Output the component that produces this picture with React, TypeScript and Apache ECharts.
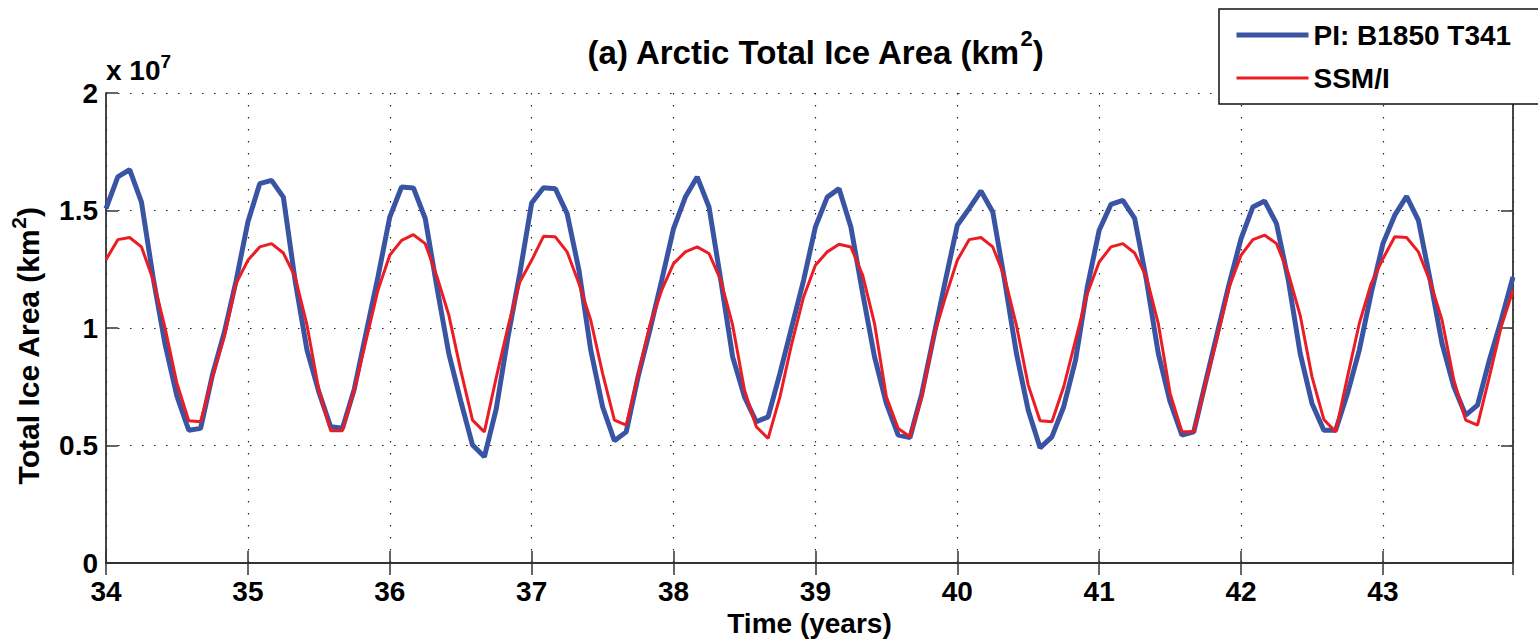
import React, { useEffect, useRef } from 'react';
import * as echarts from 'echarts';

// Time axis: monthly samples starting at model year 34
const START_YEAR = 34;
const MONTHS_PER_YEAR = 12;

// Tick labels
const Y_TICKS = ['0', '0.5', '1', '1.5', '2'];

// Total ice area, units of 10^7 km^2 (monthly, years 34-43)
const piB1850T341: number[] = [
  1.508, 1.643, 1.674, 1.536, 1.21, 0.93, 0.71, 0.565, 0.573, 0.8, 0.98, 1.2,
  1.451, 1.614, 1.628, 1.557, 1.2, 0.906, 0.728, 0.58, 0.573, 0.74, 0.98, 1.217,
  1.472, 1.6, 1.596, 1.466, 1.17, 0.89, 0.69, 0.502, 0.452, 0.655, 0.962, 1.232,
  1.532, 1.597, 1.593, 1.487, 1.246, 0.906, 0.665, 0.52, 0.558, 0.792, 0.991, 1.203,
  1.423, 1.557, 1.643, 1.515, 1.203, 0.877, 0.707, 0.601, 0.622, 0.807, 1.005, 1.203,
  1.43, 1.557, 1.593, 1.43, 1.147, 0.877, 0.679, 0.544, 0.534, 0.721, 0.962, 1.203,
  1.437, 1.508, 1.583, 1.494, 1.203, 0.892, 0.65, 0.49, 0.537, 0.665, 0.863, 1.175,
  1.416, 1.526, 1.543, 1.466, 1.203, 0.892, 0.686, 0.544, 0.558, 0.77, 0.98, 1.189,
  1.38, 1.515, 1.54, 1.444, 1.203, 0.892, 0.679, 0.565, 0.565, 0.721, 0.906, 1.147,
  1.359, 1.48, 1.56, 1.458, 1.203, 0.934, 0.75, 0.629, 0.672, 0.863, 1.033, 1.217,
];

const ssmi: number[] = [
  1.291, 1.376, 1.385, 1.345, 1.203, 1.0, 0.764, 0.605, 0.601, 0.792, 0.962, 1.189,
  1.288, 1.345, 1.359, 1.319, 1.217, 1.012, 0.736, 0.563, 0.563, 0.736, 0.948, 1.161,
  1.31, 1.373, 1.397, 1.359, 1.217, 1.054, 0.821, 0.608, 0.558, 0.788, 1.005, 1.196,
  1.288, 1.39, 1.388, 1.324, 1.189, 1.033, 0.807, 0.608, 0.587, 0.8, 1.012, 1.161,
  1.274, 1.324, 1.345, 1.317, 1.203, 1.012, 0.736, 0.58, 0.53, 0.707, 0.934, 1.132,
  1.267, 1.324, 1.356, 1.345, 1.224, 1.019, 0.707, 0.572, 0.537, 0.707, 0.962, 1.132,
  1.288, 1.376, 1.385, 1.345, 1.217, 1.012, 0.757, 0.605, 0.601, 0.75, 0.948, 1.147,
  1.281, 1.345, 1.359, 1.319, 1.217, 1.019, 0.722, 0.558, 0.558, 0.764, 0.962, 1.175,
  1.31, 1.376, 1.395, 1.359, 1.232, 1.054, 0.792, 0.611, 0.558, 0.792, 1.019, 1.189,
  1.295, 1.388, 1.385, 1.324, 1.196, 1.033, 0.778, 0.608, 0.587, 0.792, 1.005, 1.161,
];

const SERIES_NAMES = ['PI: B1850 T341', 'SSM/I'];
const SERIES_COLORS = ['#3A54A4', '#EC1C24'];
const SERIES_WIDTHS = [5, 3];

const FONT = "'Liberation Sans', Arial, Helvetica, sans-serif";

export default function App() {
  const ref = useRef<HTMLDivElement>(null);

  useEffect(() => {
    if (!ref.current) return;
    const chart = echarts.init(ref.current, null, { renderer: 'svg' });
    const toPairs = (arr: number[]) =>
      arr.map((v, i) => [START_YEAR + i / MONTHS_PER_YEAR, v]);
    const xMax = START_YEAR + (piB1850T341.length - 1) / MONTHS_PER_YEAR;

    const axisColor = '#333';
    const gridLine = { show: true, lineStyle: { color: '#222', width: 1.2, type: [1.5, 10.5] as any } };
    const tickStyle = { inside: true, length: 12, lineStyle: { color: axisColor, width: 1.5 } };
    const lineStyle = { show: true, lineStyle: { color: axisColor, width: 1.8 } };
    const labelStyle = { fontFamily: FONT, fontWeight: 'bold' as const, fontSize: 28, color: '#000' };
    const sup = (fontSize: number, raise: number) => ({
      fontFamily: FONT, fontWeight: 'bold' as const, fontSize, color: '#000',
      verticalAlign: 'bottom' as const, padding: [0, 0, raise, 0],
    });

    chart.setOption({
      animation: false,
      backgroundColor: '#fff',
      title: {
        text: '(a) Arctic Total Ice Area (km{sup|2})',
        left: 810,
        top: 22,
        textAlign: 'center',
        textStyle: {
          fontFamily: FONT, fontWeight: 'bold', fontSize: 33, color: '#000',
          rich: { sup: sup(22, 29) },
        },
      },
      grid: {
        left: 106, right: 25, top: 93, bottom: 78,
        containLabel: false, outerBoundsMode: 'none',
      } as any,
      legend: {
        orient: 'vertical',
        left: 1219,
        top: 9,
        itemWidth: 72,
        itemHeight: 26,
        itemGap: 15,
        padding: [12, 28, 12, 15],
        backgroundColor: '#fff',
        borderColor: '#111',
        borderWidth: 1.5,
        borderRadius: 0,
        itemStyle: { opacity: 0 },
        textStyle: { fontFamily: FONT, fontWeight: 'bold', fontSize: 28, color: '#000' },
        data: SERIES_NAMES.map((name, i) => ({
          name,
          lineStyle: { width: SERIES_WIDTHS[i], color: SERIES_COLORS[i] },
        })),
      },
      graphic: [
        {
          type: 'text',
          left: 106,
          top: 52,
          style: {
            text: 'x 10{sup|7}',
            fontFamily: FONT, fontWeight: 'bold', fontSize: 28, fill: '#000',
            rich: { sup: sup(19, 18) },
          } as any,
        },
      ],
      xAxis: [
        {
          type: 'value', min: START_YEAR, max: xMax, interval: 1, position: 'bottom',
          axisLine: lineStyle, axisTick: tickStyle, splitLine: gridLine,
          axisLabel: {
            ...labelStyle, margin: 14,
            formatter: (v: number) => (Math.abs(v - Math.round(v)) < 1e-6 ? String(Math.round(v)) : ''),
          },
          name: 'Time (years)', nameLocation: 'middle', nameGap: 37,
          nameTextStyle: { ...labelStyle, verticalAlign: 'top' },
        },
        {
          type: 'value', min: START_YEAR, max: xMax, interval: 1, position: 'top',
          axisLine: lineStyle, axisTick: tickStyle, splitLine: { show: false }, axisLabel: { show: false },
        },
      ],
      yAxis: [
        {
          type: 'value', min: 0, max: 2, interval: 0.5, position: 'left',
          axisLine: lineStyle, axisTick: tickStyle, splitLine: gridLine,
          axisLabel: {
            ...labelStyle, margin: 8,
            formatter: (v: number) => Y_TICKS[Math.round(v / 0.5)] ?? '',
          },
          name: 'Total Ice Area (km{sup|2})', nameLocation: 'middle', nameGap: 57, nameRotate: 90,
          nameTextStyle: {
            ...labelStyle, fontSize: 30, padding: [0, 36, 0, 0],
            rich: { sup: sup(21, 20) },
          },
        },
        {
          type: 'value', min: 0, max: 2, interval: 0.5, position: 'right',
          axisLine: lineStyle, axisTick: tickStyle, splitLine: { show: false }, axisLabel: { show: false },
        },
      ],
      series: [
        {
          name: SERIES_NAMES[0], type: 'line', data: toPairs(piB1850T341),
          symbol: 'none', showSymbol: false, z: 2,
          lineStyle: { color: SERIES_COLORS[0], width: SERIES_WIDTHS[0] }, itemStyle: { color: SERIES_COLORS[0] },
        },
        {
          name: SERIES_NAMES[1], type: 'line', data: toPairs(ssmi),
          symbol: 'none', showSymbol: false, z: 3,
          lineStyle: { color: SERIES_COLORS[1], width: SERIES_WIDTHS[1] }, itemStyle: { color: SERIES_COLORS[1] },
        },
      ],
    });
    return () => chart.dispose();
  }, []);

  return (
    <div
      ref={ref}
      style={{ position: 'absolute', left: 0, top: 0, width: 1538, height: 641, background: '#fff' }}
    />
  );
}
